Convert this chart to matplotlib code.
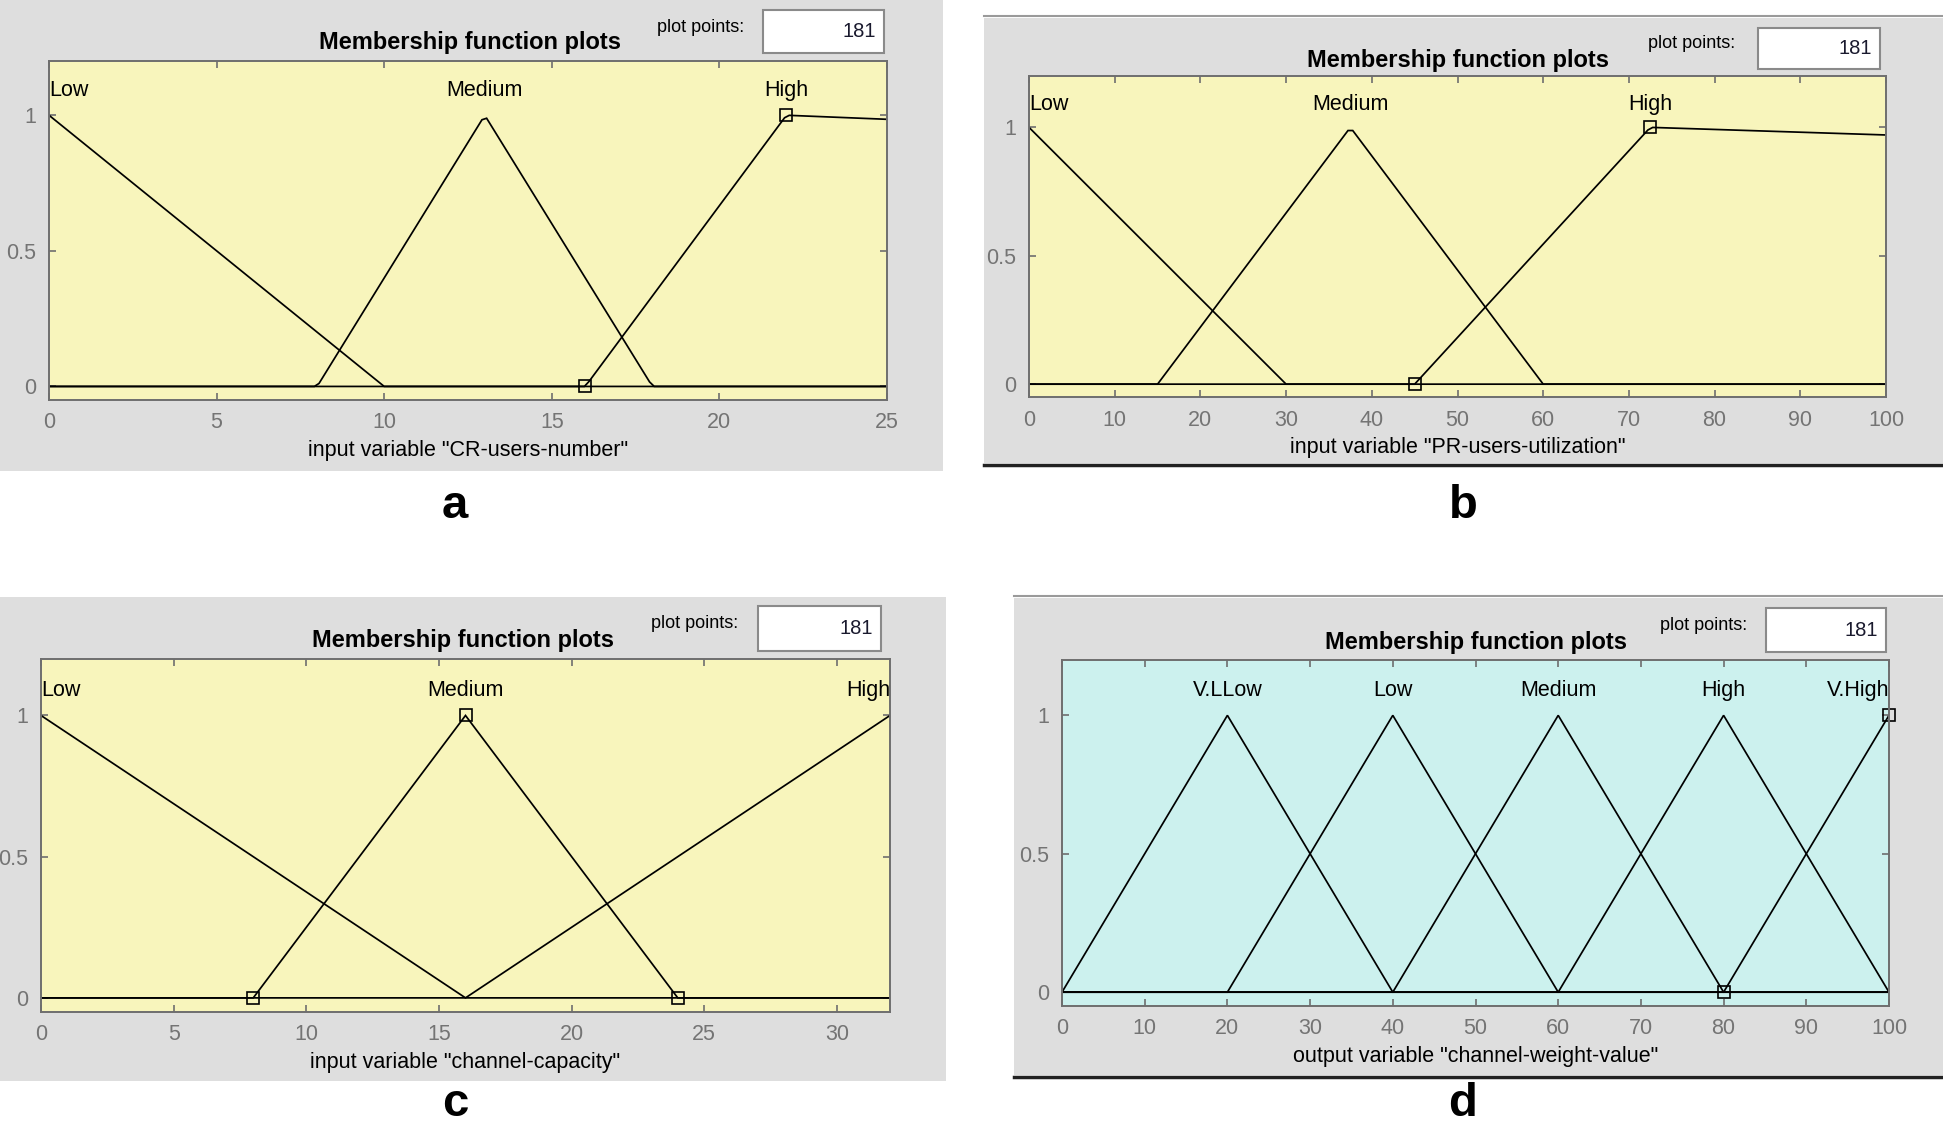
import matplotlib
matplotlib.use('Agg')
import matplotlib.pyplot as plt
from matplotlib.patches import Rectangle
from matplotlib.lines import Line2D
import numpy as np

plt.rcParams['font.family'] = ['Liberation Sans', 'DejaVu Sans']

# ---- data: membership functions (trimf params) per panel ----
a_range = [0, 25]
a_names = ['Low', 'Medium', 'High']
a_params = [[0, 0, 10], [8, 13, 18], [16, 22, 222]]
a_xticks = [0, 5, 10, 15, 20, 25]
a_xlabel = 'input variable "CR-users-number"'
a_selected = 2

b_range = [0, 100]
b_names = ['Low', 'Medium', 'High']
b_params = [[0, 0, 30], [15, 37.5, 60], [45, 72.5, 1000]]
b_xticks = [0, 10, 20, 30, 40, 50, 60, 70, 80, 90, 100]
b_xlabel = 'input variable "PR-users-utilization"'
b_selected = 2

c_range = [0, 32]
c_names = ['Low', 'Medium', 'High']
c_params = [[0, 0, 16], [8, 16, 24], [16, 32, 32]]
c_xticks = [0, 5, 10, 15, 20, 25, 30]
c_xlabel = 'input variable "channel-capacity"'
c_selected = 1

d_range = [0, 100]
d_names = ['V.LLow', 'Low', 'Medium', 'High', 'V.High']
d_params = [[0, 20, 40], [20, 40, 60], [40, 60, 80], [60, 80, 100], [80, 100, 120]]
d_xticks = [0, 10, 20, 30, 40, 50, 60, 70, 80, 90, 100]
d_xlabel = 'output variable "channel-weight-value"'
d_selected = 4

yticks = [0, 0.5, 1]
n_points = 181
plot_points_text = '181'
panel_letters = ['a', 'b', 'c', 'd']

W, H = 1943, 1131
GRAY = '#dedede'
YELLOW = '#f8f5bc'
CYAN = '#ccf1ee'
EDGE = '#6e6e6e'
TICKTXT = '#747474'


def trimf(x, p):
    a, b, c = p
    left = np.ones_like(x) if b == a else (x - a) / (b - a)
    right = np.ones_like(x) if c == b else (c - x) / (c - b)
    return np.clip(np.minimum(left, right), 0, 1)


def frac_box(l, t, r, b):
    return [l / W, 1 - b / H, (r - l) / W, (b - t) / H]


def rect(fig, l, t, r, b, **kw):
    x0, y0, w, h = frac_box(l, t, r, b)
    fig.add_artist(Rectangle((x0, y0), w, h, transform=fig.transFigure, **kw))


def hline(fig, y, l, r, **kw):
    fig.add_artist(Line2D([l / W, r / W], [1 - y / H, 1 - y / H], transform=fig.transFigure, **kw))


def draw_panel(fig, box, xr, names, params, xticks, xlabel, sel, color, aligns):
    ax = fig.add_axes(frac_box(*box))
    ax.set_facecolor(color)
    x = np.linspace(xr[0], xr[1], n_points)
    for p in params:
        ax.plot(x, trimf(x, p), color='black', lw=1.25, solid_joinstyle='miter')
    # squares on the selected MF's vertices
    vx = [v for v in params[sel] if xr[0] <= v <= xr[1]]
    vy = [[0, 1, 0][i] for i, v in enumerate(params[sel]) if xr[0] <= v <= xr[1]]
    ax.plot(vx, vy, ls='none', marker='s', ms=8, mfc='none', mec='black', mew=1.2, clip_on=False)
    for name, p, ha in zip(names, params, aligns):
        px = {'left': xr[0], 'right': xr[1]}.get(ha, p[1])
        ax.text(px, 1.09, name, ha=ha, va='center', fontsize=15.5, color='black')
    ax.set_xlim(xr)
    ax.set_ylim(-0.05, 1.2)
    ax.set_xticks(xticks)
    ax.set_yticks(yticks)
    ax.set_yticklabels(['0', '0.5', '1'])
    ax.tick_params(direction='in', length=5, width=1.2, color=EDGE, labelcolor=TICKTXT,
                   labelsize=15.5, top=True, right=True)
    ax.tick_params(axis='x', pad=9)
    ax.tick_params(axis='y', pad=9)
    for s in ax.spines.values():
        s.set_color(EDGE)
        s.set_linewidth(1.4)
    ax.set_xlabel(xlabel, fontsize=15.5, color='black', labelpad=5)
    return ax


fig = plt.figure(figsize=(W / 100, H / 100), dpi=100)
fig.patch.set_facecolor('white')

# panel backgrounds
rect(fig, 0, 0, 943, 471, fc=GRAY, ec='none', zorder=-2)
rect(fig, 984, 18, 1943, 463, fc=GRAY, ec='none', zorder=-2)
rect(fig, 0, 597, 946, 1081, fc=GRAY, ec='none', zorder=-2)
rect(fig, 1014, 598, 1943, 1075, fc=GRAY, ec='none', zorder=-2)
hline(fig, 16, 984, 1943, color='#9a9a9a', lw=1.5)
hline(fig, 465, 984, 1943, color='#222222', lw=2.5)
hline(fig, 596, 1014, 1943, color='#9a9a9a', lw=1.5)
hline(fig, 1077, 1014, 1943, color='#222222', lw=2.5)

panels = [
    ((49, 61, 887, 400), a_range, a_names, a_params, a_xticks, a_xlabel, a_selected, YELLOW,
     ['left', 'center', 'center'], (470, 43), (701, 27), (763, 10, 884, 53), (455, 506)),
    ((1029, 76, 1886, 397), b_range, b_names, b_params, b_xticks, b_xlabel, b_selected, YELLOW,
     ['left', 'center', 'center'], (1458, 60), (1692, 43), (1758, 28, 1880, 69), (1463, 506)),
    ((41, 659, 890, 1012), c_range, c_names, c_params, c_xticks, c_xlabel, c_selected, YELLOW,
     ['left', 'center', 'right'], (463, 641), (695, 623), (758, 606, 881, 651), (455, 1104)),
    ((1062, 660, 1889, 1006), d_range, d_names, d_params, d_xticks, d_xlabel, d_selected, CYAN,
     ['center', 'center', 'center', 'center', 'right'], (1476, 642), (1704, 626), (1766, 608, 1886, 652), (1463, 1104)),
]

for (box, xr, names, params, xt, xl, sel, col, al, tpos, ppos, wbox, lpos), letter in zip(panels, panel_letters):
    draw_panel(fig, box, xr, names, params, xt, xl, sel, col, al)
    fig.text(tpos[0] / W, 1 - tpos[1] / H, 'Membership function plots', ha='center', va='center',
             fontsize=17, fontweight='bold')
    fig.text(ppos[0] / W, 1 - ppos[1] / H, 'plot points:', ha='center', va='center', fontsize=13)
    rect(fig, *wbox, fc='white', ec='#8a8a8a', lw=1.5, zorder=1)
    fig.text((wbox[2] - 8) / W, 1 - (wbox[1] + wbox[3]) / 2 / H, plot_points_text, ha='right',
             va='center', fontsize=14.5, color='#1a1a2e')
    fig.text(lpos[0] / W, 1 - lpos[1] / H, letter, ha='center', va='center', fontsize=34,
             fontweight='bold')

fig.savefig('out.png', dpi=100)
